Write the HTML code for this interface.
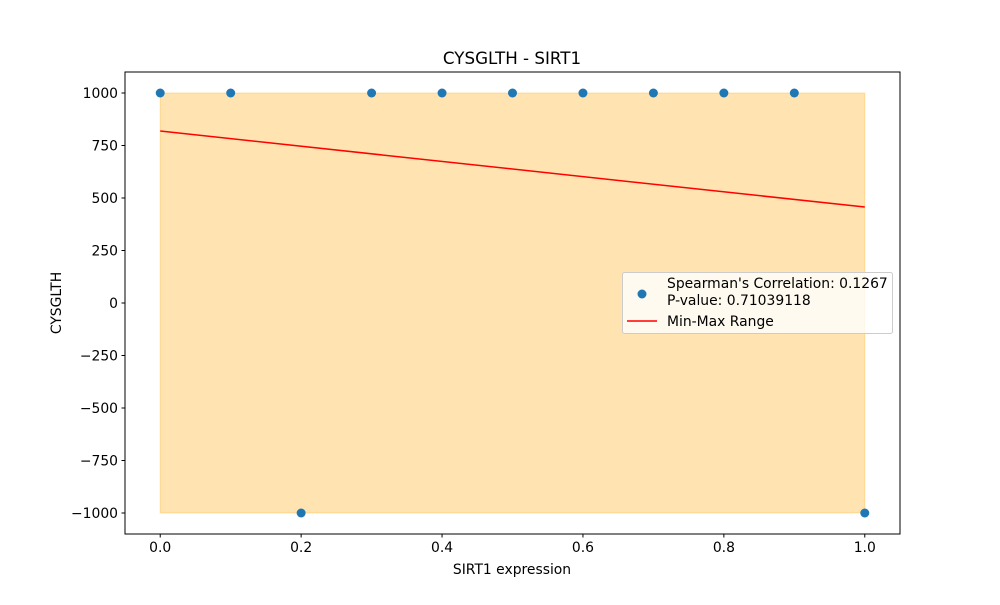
<!DOCTYPE html>
<html><head><meta charset="utf-8"><style>
body{margin:0;background:#fff}
svg{font-family:"DejaVu Sans","Liberation Sans",sans-serif}
</style></head><body>
<svg id="c" width="1000" height="600" viewBox="0 0 1000 600"></svg>
<script>
const xs=[0,0.1,0.2,0.3,0.4,0.5,0.6,0.7,0.8,0.9,1.0];
const ys=[1000,1000,-1000,1000,1000,1000,1000,1000,1000,1000,-1000];
const lineX=[0,1];
const lineY=[819,457];
const bandX=[0,1];
const bandMin=[-1000,-1000];
const bandMax=[1000,1000];
const xTicks=[0,0.2,0.4,0.6,0.8,1.0];
const xTickLabels=["0.0","0.2","0.4","0.6","0.8","1.0"];
const yTicks=[1000,750,500,250,0,-250,-500,-750,-1000];
const yTickLabels=["1000","750","500","250","0","\u2212250","\u2212500","\u2212750","\u22121000"];
const L=125,R=900,T=72,B=534,x0=-0.05,x1=1.05,y0=-1100,y1=1100;
const sx=v=>L+(v-x0)/(x1-x0)*(R-L);
const sy=v=>B-(v-y0)/(y1-y0)*(B-T);
const svg=document.getElementById('c');
const NS='http://www.w3.org/2000/svg';
function mk(tag,a,p){const e=document.createElementNS(NS,tag);for(const k in a)e.setAttribute(k,a[k]);(p||svg).appendChild(e);return e;}
let e;
e=mk('polygon',{points:`${sx(bandX[0])},${sy(bandMax[0])} ${sx(bandX[1])},${sy(bandMax[1])} ${sx(bandX[1])},${sy(bandMin[1])} ${sx(bandX[0])},${sy(bandMin[0])}`,fill:'#ffa500','fill-opacity':0.3,stroke:'#ffa500','stroke-opacity':0.3});


e=mk('line',{x1:sx(lineX[0]),y1:sy(lineY[0]),x2:sx(lineX[1]),y2:sy(lineY[1]),stroke:'#ff0000','stroke-width':1.5});


xs.forEach((x,i)=>{
 const c=mk('circle',{cx:sx(x),cy:sy(ys[i]),r:4.5,fill:'#1f77b4'});
 
 
});
e=mk('rect',{x:L,y:T,width:R-L,height:B-T,fill:'none',stroke:'#000','stroke-width':1});


xTicks.forEach((v,i)=>{
 mk('line',{x1:sx(v),y1:B,x2:sx(v),y2:B+3.5,stroke:'#000'});
 const t=mk('text',{x:sx(v),y:B+18,'font-size':13.9,'text-anchor':'middle'});t.textContent=xTickLabels[i];
 
 
});
yTicks.forEach((v,i)=>{
 mk('line',{x1:L-3.5,y1:sy(v),x2:L,y2:sy(v),stroke:'#000'});
 const t=mk('text',{x:L-7,y:sy(v)+5,'font-size':13.9,'text-anchor':'end'});t.textContent=yTickLabels[i];
 
 
});
e=mk('text',{x:512,y:64,'font-size':16.7,'text-anchor':'middle'});e.textContent='CYSGLTH - SIRT1';


e=mk('text',{x:512,y:574,'font-size':13.9,'text-anchor':'middle'});e.textContent='SIRT1 expression';


e=mk('text',{x:61,y:303,'font-size':13.9,'text-anchor':'middle',transform:'rotate(-90 61 303)'});e.textContent='CYSGLTH';


const g=mk('g',{});


mk('rect',{x:622.5,y:272.5,width:270,height:61,rx:2,fill:'#fff','fill-opacity':0.8,stroke:'#ccc'},g);
mk('circle',{cx:642,cy:294,r:4.5,fill:'#1f77b4'},g);
e=mk('text',{x:667,y:288,'font-size':13.9},g);e.textContent="Spearman's Correlation: 0.1267";


e=mk('text',{x:667,y:305,'font-size':13.9},g);e.textContent='P-value: 0.71039118';


mk('line',{x1:627,y1:321,x2:657,y2:321,stroke:'#ff0000','stroke-width':1.5},g);
e=mk('text',{x:667,y:326,'font-size':13.9},g);e.textContent='Min-Max Range';


</script>
</body></html>
